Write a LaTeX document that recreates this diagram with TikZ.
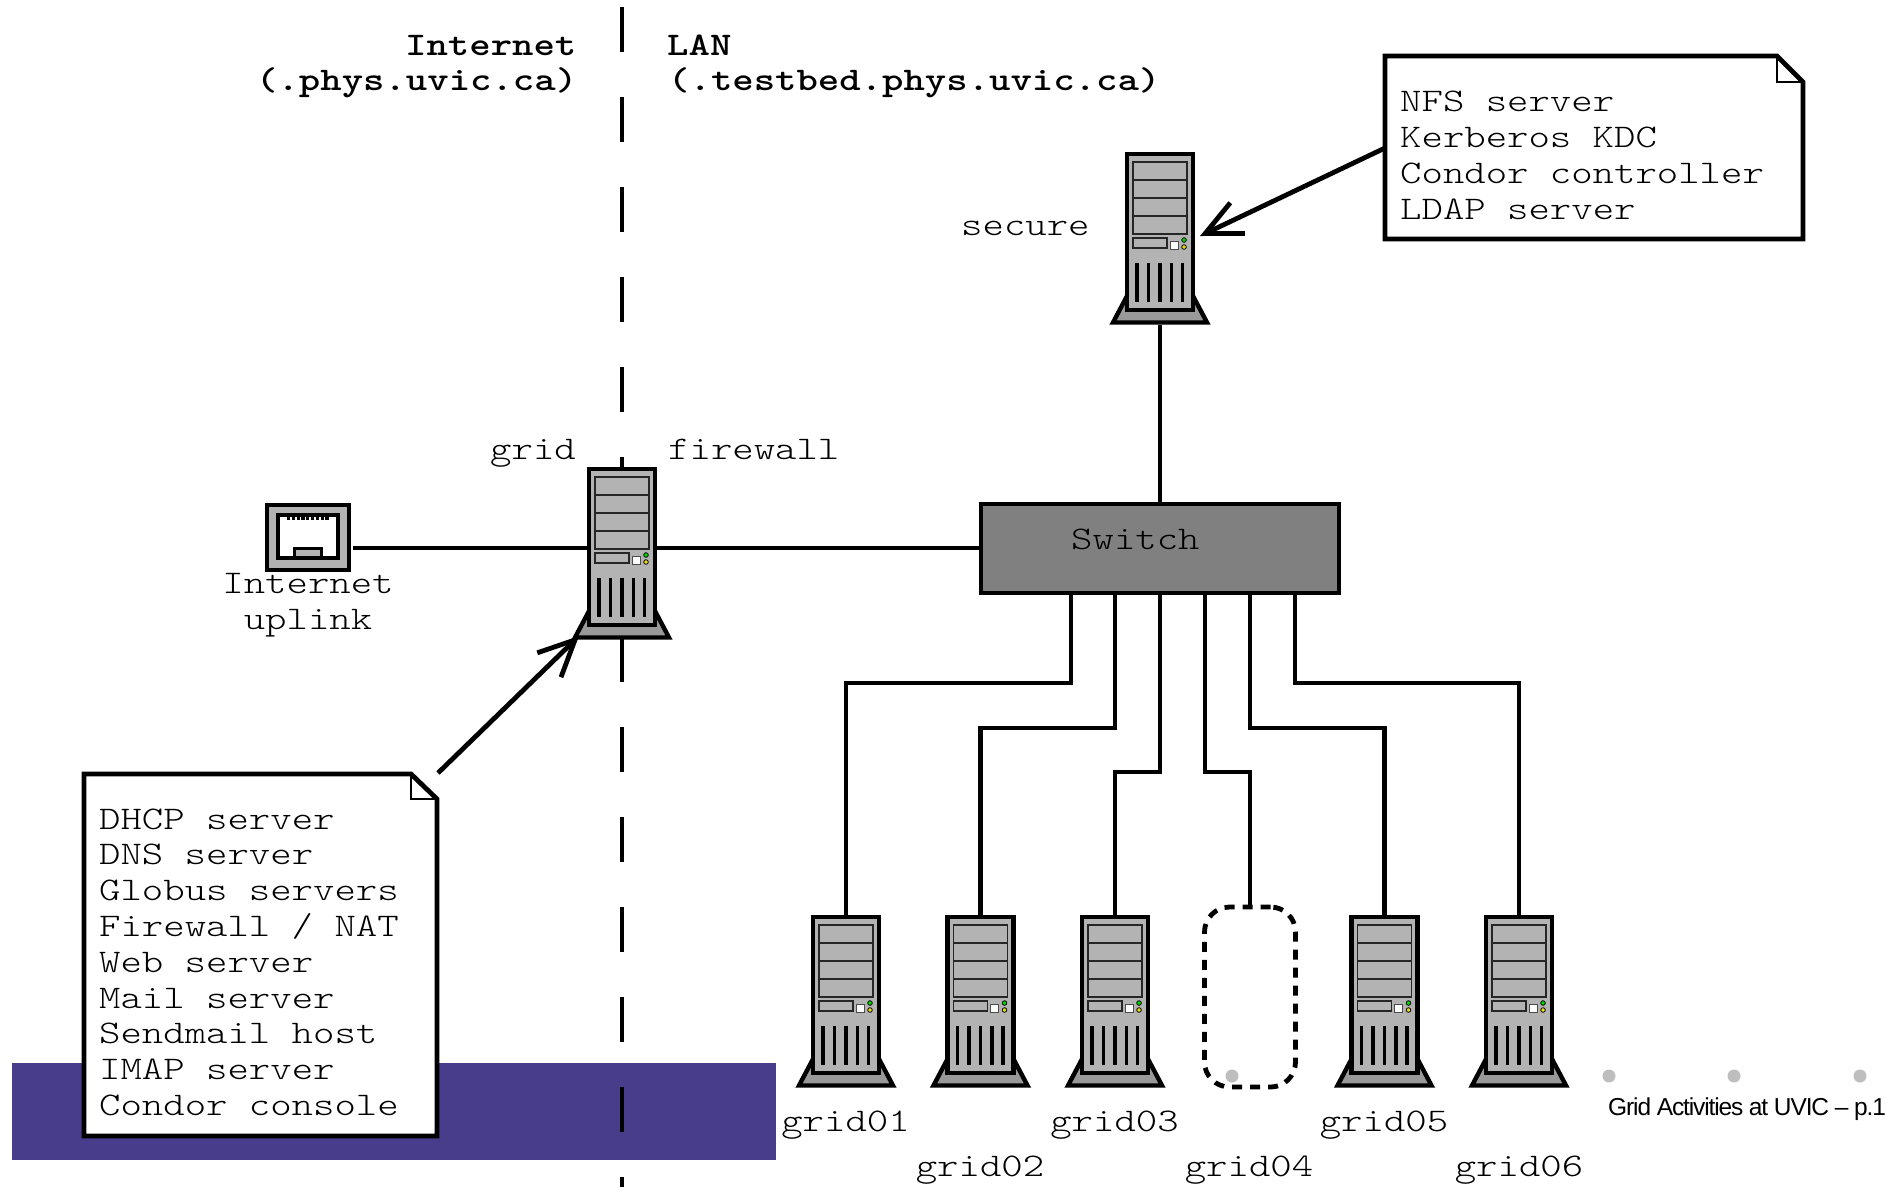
\documentclass[tikz,border=0pt]{standalone}
\usepackage{fontspec}
\usetikzlibrary{arrows.meta}
\newfontfamily\cour[FakeStretch=1.235]{Latin Modern Mono Light}
\newfontfamily\foot{Liberation Sans}
\definecolor{srvbody}{HTML}{B3B3B3}
\definecolor{srvbase}{HTML}{999999}
\definecolor{switchgray}{HTML}{808080}
\definecolor{band}{HTML}{483D8B}
\definecolor{dotgray}{HTML}{BEBEBE}
\tikzset{
  wire/.style={line width=4.8pt},
  thin part/.style={line width=1.4pt,draw=black!85},
  ltext/.style={font=\cour\fontsize{33}{35.8}\selectfont,inner sep=0pt,anchor=base west},
  ctext/.style={font=\cour\fontsize{33}{35.8}\selectfont,inner sep=0pt,anchor=base},
  htext/.style={font=\cour\bfseries\fontsize{33}{35.8}\selectfont,inner sep=0pt,anchor=base west},
  notetext/.style={font=\cour\fontsize{33}{35.8}\selectfont,inner sep=0pt,anchor=base west,align=left},
  notepoint/.style={line width=4.8pt,-{Straight Barb[length=36pt,width=34pt,line width=4.8pt]}},
  anchorbox/.style={inner sep=0pt,outer sep=0pt,minimum width=70pt,minimum height=172pt,anchor=north},
  gdot/.style={circle,fill=dotgray,inner sep=0pt,minimum size=13pt},
}
\newcommand{\srv}[3]{%
  \node[anchorbox] (#1) at (#2,#3) {};
  \begin{scope}[shift={(#2,#3)}]
    \draw[line width=4.4pt,fill=srvbase,line join=miter] (-33,144) -- (-47,170.5) -- (47,170.5) -- (33,144) -- cycle;
    \draw[line width=4.4pt,fill=srvbody] (-33,2) rectangle (33,158);
    \draw[thin part,fill=srvbody] (-27,10) rectangle (27,28);
    \draw[thin part,fill=srvbody] (-27,28) rectangle (27,46);
    \draw[thin part,fill=srvbody] (-27,46) rectangle (27,64);
    \draw[thin part,fill=srvbody] (-27,64) rectangle (27,82);
    \draw[thin part,fill=srvbody] (-27,86) rectangle (7,96);
    \draw[line width=1pt,draw=black!70,fill=white] (10,89) rectangle (18,97);
    \draw[line width=.8pt,fill=green!85!black] (24,88) circle (2.3);
    \draw[line width=.8pt,fill=yellow!90!black] (24,95) circle (2.3);
    \foreach \vx in {-23,-11.7,-0,11.3,22.5}
      \fill (\vx-1.7,111) rectangle (\vx+1.7,150);
  \end{scope}}
\begin{document}
\begin{tikzpicture}[x=1pt,y=-1pt]
\useasboundingbox (0,0) rectangle (1886,1187);
\fill[white] (0,0) rectangle (1886,1187);
% band
\fill[band] (12,1063) rectangle (775.5,1160);
% boundary
\coordinate (bt) at (622,7);
\coordinate (bb) at (622,1187);
\draw[line width=4.8pt,dash pattern=on 45pt off 45pt] (bt) -- (bb);
% uplink icon
\node[inner sep=0pt,outer sep=0pt,minimum width=86pt,minimum height=69pt,anchor=north west] (uplink) at (265,503) {};
\draw[line width=4.6pt,fill=srvbody] (267,505) rectangle (349,570);
\draw[line width=4pt,fill=white] (278,515) rectangle (338,558);
\draw[line width=3.4pt,fill=srvbody] (294.5,548.5) rectangle (321.5,558);
\draw[line width=3.5pt,dash pattern=on 3.2pt off 1.6pt] (287,518.5) -- (329,518.5);
% switch
\node[draw,line width=4.8pt,fill=switchgray,inner sep=0pt,outer sep=0pt,minimum width=358pt,minimum height=89pt,anchor=north west] (switch) at (981,504) {};
\node[ltext] (switchlabel) at (1071,549) {Switch};
% servers
\srv{secure}{1160}{152}
\srv{grid}{622}{467}
\srv{grid01}{846}{915}
\srv{grid02}{980.5}{915}
\srv{grid03}{1115}{915}
\srv{grid05}{1384.5}{915}
\srv{grid06}{1519}{915}
\node[draw,line width=4.8pt,rounded corners=25pt,dash pattern=on 10pt off 8pt,inner sep=0pt,outer sep=0pt,minimum width=91pt,minimum height=180pt,anchor=north] (grid04) at (1250,907) {};
% wires
\coordinate (up) at (353,548);
\coordinate (gl) at (587,548);
\coordinate (gr) at (657,548);
\coordinate (sl) at (981,548);
\draw[wire] (up) -- (gl);
\draw[wire] (gr) -- (sl);
\coordinate (secbot) at (1160,325);
\draw[wire] (secbot) -- (switch.north -| secbot);
\coordinate (p1) at (1071,593);
\coordinate (p2) at (1115,593);
\coordinate (p3) at (1160,593);
\coordinate (p4) at (1205,593);
\coordinate (p5) at (1250,593);
\coordinate (p6) at (1295,593);
\draw[wire] (p1) -- ++(0,90) -| (grid01.north);
\draw[wire] (p2) -- ++(0,135) -| (grid02.north);
\draw[wire] (p3) -- ++(0,179) -| (grid03.north);
\draw[wire] (p4) -- ++(0,179) -| (grid04.north);
\draw[wire] (p5) -- ++(0,135) -| (grid05.north);
\draw[wire] (p6) -- ++(0,90) -| (grid06.north);
% notes
\draw[line width=4.8pt,fill=white,line join=miter] (1385,56) -- (1777,56) -- (1803,82) -- (1803,239) -- (1385,239) -- cycle;
\draw[line width=2pt] (1777,56) -- (1777,82) -- (1803,82);
\node[notetext] (note1) at (1400,219) {NFS server\\Kerberos KDC\\Condor controller\\LDAP server};
\draw[line width=4.8pt,fill=white,line join=miter] (84,774) -- (411,774) -- (437,799) -- (437,1136) -- (84,1136) -- cycle;
\draw[line width=2pt] (411,774) -- (411,799) -- (437,799);
\node[notetext] (note2) at (99,1115.5) {DHCP server\\DNS server\\Globus servers\\Firewall / NAT\\Web server\\Mail server\\Sendmail host\\IMAP server\\Condor console};
% arrows
\coordinate (n1out) at (1385,148);
\coordinate (n1tip) at (1200,236);
\coordinate (n2out) at (438,773);
\coordinate (n2tip) at (579,636);
\draw[notepoint] (n1out) -- (n1tip);
\draw[notepoint] (n2out) -- (n2tip);
% labels
\node[htext] (h1) at (405,55) {Internet};
\node[htext] (h2) at (256,90) {(.phys.uvic.ca)};
\node[htext] (h3) at (667,55) {LAN};
\node[htext] (h4) at (668,90) {(.testbed.phys.uvic.ca)};
\node[ltext] (lsecure) at (961,235) {secure};
\node[ltext] (lgrid) at (490,459) {grid};
\node[ltext] (lfw) at (668,459) {firewall};
\node[ctext] (lup1) at (308,593) {Internet};
\node[ctext] (lup2) at (308,629) {uplink};
\node[ctext] (l1) at (845.5,1131) {grid01};
\node[ctext] (l2) at (980,1176) {grid02};
\node[ctext] (l3) at (1114.5,1131) {grid03};
\node[ctext] (l4) at (1249,1176) {grid04};
\node[ctext] (l5) at (1384,1131) {grid05};
\node[ctext] (l6) at (1519,1176) {grid06};
% footer
\node[gdot] (d1) at (1232,1076) {};
\node[gdot] (d2) at (1609,1076) {};
\node[gdot] (d3) at (1734,1076) {};
\node[gdot] (d4) at (1860,1076) {};
\node[inner sep=0pt,anchor=base west,font=\foot\fontsize{24.5}{24}\selectfont\addfontfeature{LetterSpace=-4.6}] (foot) at (1608,1115) {Grid Activities at UVIC – p.1};
\end{tikzpicture}
\end{document}
